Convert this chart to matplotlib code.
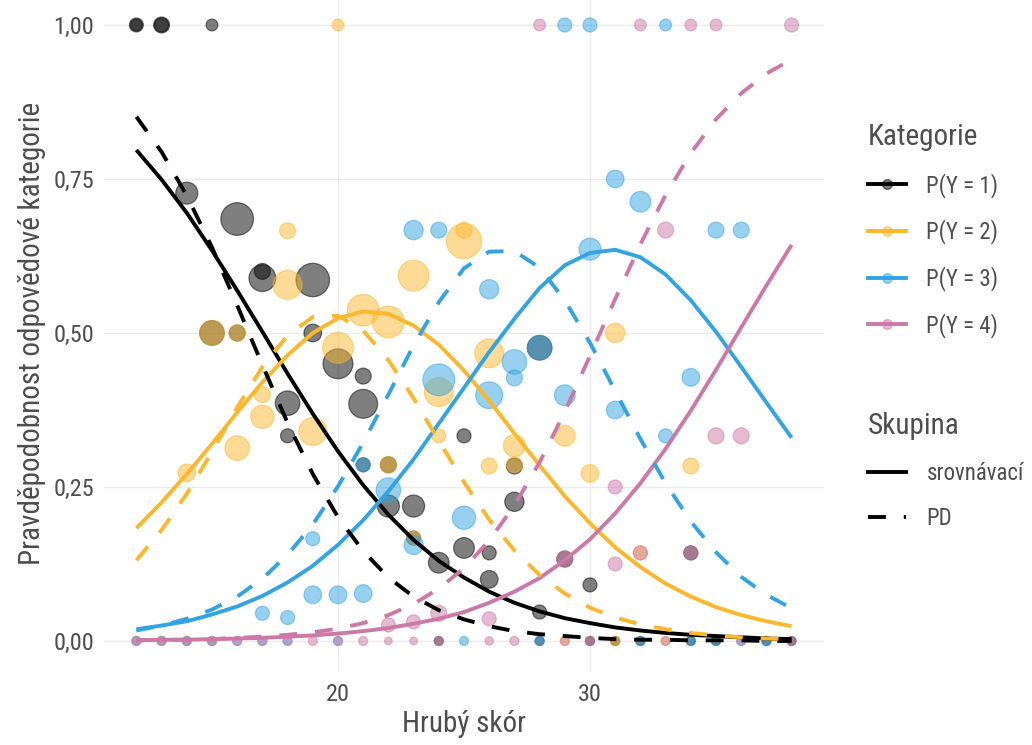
import matplotlib
matplotlib.use("Agg")
import matplotlib.pyplot as plt
from matplotlib.lines import Line2D
from matplotlib.colors import to_rgba

plt.rcParams['font.family'] = ['Roboto Condensed', 'Roboto', 'DejaVu Sans']
plt.rcParams['font.stretch'] = 'condensed'

# score grid for the fitted curves
score = list(range(12, 39))

# fitted probabilities, comparison group (srovnávací)
p1_ctrl = [0.797, 0.749, 0.695, 0.634, 0.569, 0.502, 0.434, 0.369, 0.308, 0.253, 0.205, 0.164, 0.130,
           0.103, 0.080, 0.062, 0.048, 0.037, 0.029, 0.022, 0.017, 0.013, 0.010, 0.008, 0.006, 0.004, 0.003]
p2_ctrl = [0.183, 0.225, 0.271, 0.320, 0.371, 0.420, 0.464, 0.500, 0.524, 0.535, 0.531, 0.512, 0.481,
           0.439, 0.390, 0.337, 0.285, 0.235, 0.191, 0.152, 0.120, 0.093, 0.072, 0.055, 0.042, 0.032, 0.024]
p3_ctrl = [0.019, 0.025, 0.032, 0.043, 0.056, 0.073, 0.095, 0.122, 0.156, 0.196, 0.243, 0.295, 0.353,
           0.411, 0.469, 0.523, 0.573, 0.610, 0.630, 0.635, 0.623, 0.595, 0.553, 0.502, 0.445, 0.387, 0.330]
p4_ctrl = [0.001, 0.002, 0.002, 0.003, 0.004, 0.005, 0.007, 0.009, 0.012, 0.016, 0.021, 0.028, 0.036,
           0.047, 0.062, 0.080, 0.102, 0.131, 0.165, 0.207, 0.256, 0.312, 0.374, 0.440, 0.509, 0.577, 0.643]

# fitted probabilities, PD group
p1_pd = [0.851, 0.794, 0.723, 0.639, 0.545, 0.448, 0.354, 0.271, 0.201, 0.146, 0.103, 0.072, 0.050,
         0.035, 0.024, 0.016, 0.011, 0.008, 0.005, 0.003, 0.002, 0.002, 0.001, 0.001, 0.001, 0.000, 0.000]
p2_pd = [0.131, 0.180, 0.239, 0.307, 0.379, 0.445, 0.496, 0.526, 0.528, 0.504, 0.456, 0.394, 0.325,
         0.258, 0.197, 0.147, 0.107, 0.077, 0.054, 0.038, 0.027, 0.019, 0.013, 0.009, 0.006, 0.004, 0.003]
p3_pd = [0.017, 0.025, 0.036, 0.051, 0.072, 0.101, 0.140, 0.189, 0.251, 0.322, 0.400, 0.480, 0.550,
         0.605, 0.632, 0.633, 0.606, 0.553, 0.484, 0.406, 0.328, 0.256, 0.194, 0.144, 0.104, 0.075, 0.053]
p4_pd = [0.001, 0.002, 0.002, 0.003, 0.005, 0.007, 0.010, 0.014, 0.020, 0.029, 0.042, 0.060, 0.085,
         0.118, 0.163, 0.220, 0.290, 0.372, 0.463, 0.555, 0.644, 0.724, 0.792, 0.847, 0.889, 0.921, 0.944]

# observed proportions per score: x, proportion, number of respondents
obs1_x = [12, 12, 13, 13, 15, 14, 16, 17, 17, 19, 15, 16, 19, 18, 18, 20, 21, 21, 22, 22, 23, 23, 24,
          25, 25, 26, 26, 27, 27, 28, 28, 29, 30, 34, 21,
          24, 28, 30, 31, 32, 34, 35, 37, 38]
obs1_y = [1, 1, 1, 1, 1, 0.727, 0.685, 0.589, 0.600, 0.586, 0.5, 0.5, 0.5, 0.386, 0.333, 0.45, 0.43,
          0.385, 0.286, 0.219, 0.219, 0.167, 0.127, 0.151, 0.333, 0.143, 0.1, 0.226, 0.284, 0.047,
          0.476, 0.133, 0.091, 0.143, 0.286,
          0, 0, 0, 0, 0, 0, 0, 0, 0]
obs1_n = [3, 2, 4, 3, 2, 8, 18, 12, 4, 19, 10, 4, 5, 10, 3, 15, 4, 14, 4, 8, 8, 3, 7, 7, 3, 3, 5, 6,
          4, 3, 10, 4, 3, 3, 3,
          1, 1, 1, 1, 1, 1, 1, 1, 1]

obs2_x = [20, 18, 23, 18, 21, 22, 25, 25, 20, 17, 17, 16, 14, 19, 24, 24, 26, 26, 27, 29, 30, 31, 32,
          34, 15, 16, 22, 27, 23,
          12, 13, 14, 15, 29, 31, 33]
obs2_y = [1, 0.666, 0.593, 0.578, 0.537, 0.518, 0.649, 0.667, 0.476, 0.40, 0.364, 0.313, 0.273, 0.34,
          0.404, 0.333, 0.467, 0.284, 0.317, 0.333, 0.272, 0.5, 0.143, 0.284, 0.5, 0.5, 0.286, 0.286,
          0.167,
          0, 0, 0, 0, 0, 0, 0]
obs2_n = [2, 4, 16, 14, 17, 17, 21, 4, 16, 4, 9, 10, 5, 13, 14, 3, 14, 4, 8, 7, 5, 6, 3, 4, 10, 4, 4,
          4, 3,
          1, 1, 1, 1, 1, 1, 1]

obs3_x = [29, 30, 33, 23, 24, 31, 32, 30, 26, 35, 36, 24, 27, 27, 26, 29, 31, 34, 33, 25, 23, 22, 19,
          19, 20, 21, 17, 18, 28, 21,
          12, 13, 14, 15, 16, 17, 18, 20, 25, 28, 32, 34, 35, 36, 37]
obs3_y = [1, 1, 1, 0.667, 0.667, 0.75, 0.713, 0.636, 0.571, 0.667, 0.667, 0.424, 0.453, 0.427, 0.399,
          0.399, 0.375, 0.428, 0.333, 0.2, 0.156, 0.245, 0.166, 0.075, 0.075, 0.077, 0.045, 0.038,
          0.476, 0.286,
          0, 0, 0, 0, 0, 0, 0, 0, 0, 0, 0, 0, 0, 0, 0]
obs3_n = [3, 3, 2, 6, 4, 5, 7, 8, 6, 4, 4, 17, 10, 4, 12, 7, 5, 5, 3, 9, 6, 10, 3, 5, 5, 5, 3, 3, 10, 3,
          1, 1, 1, 1, 1, 1, 1, 1, 1, 1, 1, 1, 1, 1, 1]

obs4_x = [28, 32, 34, 35, 38, 33, 35, 36, 31, 31, 26, 24, 23, 22, 29, 34, 32,
          12, 13, 14, 15, 16, 17, 18, 19, 20, 21, 22, 23, 24, 26, 27, 29, 30, 33, 36, 38]
obs4_y = [1, 1, 1, 1, 1, 0.667, 0.333, 0.333, 0.25, 0.125, 0.036, 0.045, 0.031, 0.026, 0.133, 0.143,
          0.143,
          0, 0, 0, 0, 0, 0, 0, 0, 0, 0, 0, 0, 0, 0, 0, 0, 0, 0, 0, 0]
obs4_n = [2, 2, 2, 2, 3, 4, 4, 4, 3, 3, 3, 4, 3, 3, 4, 3, 3,
          1, 1, 1, 1, 1, 1, 1, 1, 1, 1, 0.6, 0.6, 1, 0.8, 1, 1, 1, 1, 1, 1]

cat_labels = ['P(Y = 1)', 'P(Y = 2)', 'P(Y = 3)', 'P(Y = 4)']
group_labels = ['srovnávací', 'PD']
cat_colors = ['#000000', '#FCB72C', '#33A4E1', '#CC79A7']
text_col = '#4D4D4D'
grid_col = '#EBEBEB'
lw = 2.8
dash = (4.6, 4.6)

fig = plt.figure(figsize=(10.32, 7.45), dpi=100)
ax = fig.add_axes([0.1004, 0.0983, 0.6984, 0.9095])

observed = [(obs1_x, obs1_y, obs1_n), (obs2_x, obs2_y, obs2_n),
            (obs3_x, obs3_y, obs3_n), (obs4_x, obs4_y, obs4_n)]
for (ox, oy, on), col in zip(observed, cat_colors):
    ax.scatter(ox, oy, s=[12 + 30 * v for v in on], color=col, alpha=0.5,
               edgecolors=col, linewidths=0.9, zorder=2)

ctrl = [p1_ctrl, p2_ctrl, p3_ctrl, p4_ctrl]
pd_ = [p1_pd, p2_pd, p3_pd, p4_pd]
for vals, col in zip(ctrl, cat_colors):
    ax.plot(score, vals, color=col, lw=lw, solid_capstyle='butt', zorder=3)
for vals, col in zip(pd_, cat_colors):
    ax.plot(score, vals, color=col, lw=lw, dashes=dash, dash_capstyle='butt', zorder=3)

ax.set_xlim(10.7, 39.3)
ax.set_ylim(-0.05, 1.05)
ax.set_xticks([20, 30])
ax.set_yticks([0, 0.25, 0.5, 0.75, 1.0])
ax.set_yticklabels(['0,00', '0,25', '0,50', '0,75', '1,00'])
ax.grid(True, color=grid_col, lw=1.0)
ax.set_axisbelow(True)
for sp in ax.spines.values():
    sp.set_visible(False)
ax.tick_params(length=0, labelsize=17.5, labelcolor=text_col)
ax.tick_params(axis='x', pad=8)
ax.tick_params(axis='y', pad=7)
ax.set_xlabel('Hrubý skór', fontsize=21, color=text_col, labelpad=3)
ax.set_ylabel('Pravděpodobnost odpovědové kategorie', fontsize=21, color=text_col, labelpad=5)

# legends
leg_kw = dict(loc='upper left', frameon=False, fontsize=16.5, title_fontsize=21,
              handlelength=1.65, handletextpad=0.9, labelspacing=0.95, borderpad=0,
              borderaxespad=0, alignment='left', labelcolor=text_col)

cat_handles = [Line2D([0], [0], color=c, lw=lw, marker='o', markersize=7,
                      markerfacecolor=to_rgba(c, 0.5), markeredgecolor=to_rgba(c, 0.5))
               for c in cat_colors]
leg1 = fig.legend(cat_handles, cat_labels, title='Kategorie',
                  bbox_to_anchor=(868 / 1032, 1 - 123 / 745), **leg_kw)
leg1.get_title().set_color(text_col)

grp_handles = [Line2D([0], [0], color='black', lw=lw),
               Line2D([0], [0], color='black', lw=lw, dashes=dash, dash_capstyle='butt')]
leg2 = fig.legend(grp_handles, group_labels, title='Skupina',
                  bbox_to_anchor=(868 / 1032, 1 - 412 / 745), **leg_kw)
leg2.get_title().set_color(text_col)

fig.savefig('out.png', dpi=100)
